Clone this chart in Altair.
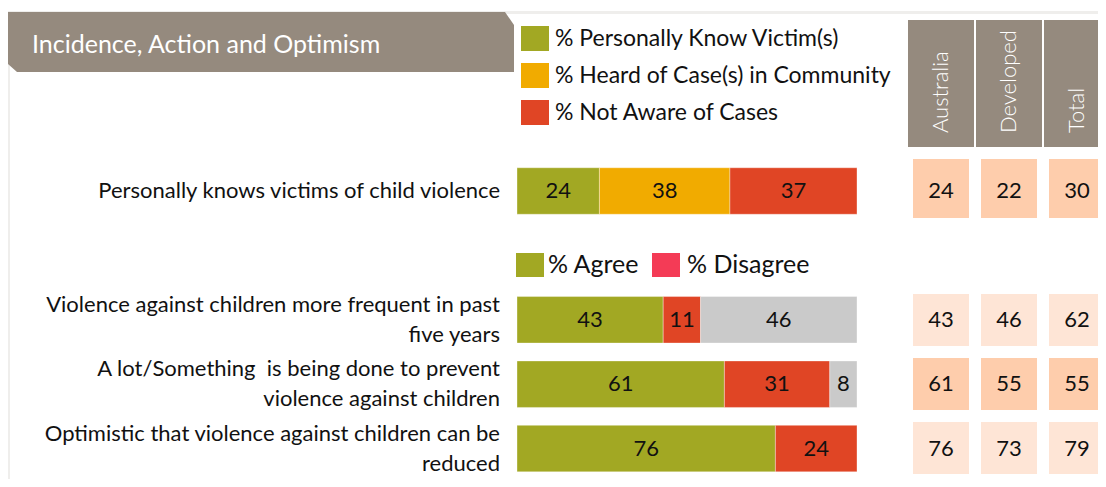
import altair as alt
import pandas as pd

# ---------------- data ----------------
title_text = "Incidence, Action and Optimism"
row_keys = ["r1", "r2", "r3", "r4"]
row_labels = [
    "Personally knows victims of child violence",
    "Violence against children more frequent in past\nfive years",
    "A lot/Something\u00a0 is being done to prevent\nviolence against children",
    "Optimistic that violence against children can be\nreduced",
]
awareness_keys = ["know", "heard", "notaware"]
awareness_labels = ["% Personally Know Victim(s)", "% Heard of Case(s) in Community", "% Not Aware of Cases"]
awareness_values = [24, 38, 37]
agree_values = [43, 61, 76]
disagree_values = [11, 31, 24]
neither_values = [46, 8, None]
agree_legend = ["% Agree", "% Disagree"]
table_columns = ["Australia", "Developed", "Total"]
australia_values = [24, 43, 61, 76]
developed_values = [22, 46, 55, 73]
total_values = [30, 62, 55, 79]

# ---------------- styles ----------------
FONT = "Lato"
TXT = "#111111"
GREEN = "#a2a823"
ORANGE = "#f1ab00"
RED = "#e04525"
GRAY = "#cacaca"
PINK = "#f43b56"
BANNER = "#958a7e"
FRAME = "#efeeec"
PEACH = "#fecdac"
PEACH_LIGHT = "#fee5d6"

# ---------------- tables ----------------
seg_rows = []
for i, (k, v) in enumerate(zip(awareness_keys, awareness_values)):
    seg_rows.append({"row": "r1", "seg": k, "value": v, "order": i})
for rk, a, d, n in zip(row_keys[1:], agree_values, disagree_values, neither_values):
    seg_rows.append({"row": rk, "seg": "agree", "value": a, "order": 0})
    seg_rows.append({"row": rk, "seg": "disagree", "value": d, "order": 1})
    if n is not None:
        seg_rows.append({"row": rk, "seg": "neither", "value": n, "order": 2})
seg_df = pd.DataFrame(seg_rows)

label_df = pd.DataFrame({"row": row_keys, "label": row_labels})

tab_rows = []
for col, vals in zip(table_columns, [australia_values, developed_values, total_values]):
    for rk, v in zip(row_keys, vals):
        tab_rows.append({"row": rk, "col": col, "value": v})
tab_df = pd.DataFrame(tab_rows)
col_df = pd.DataFrame({"col": table_columns})
leg1_df = pd.DataFrame({"seg": awareness_keys, "label": awareness_labels})
leg2_df = pd.DataFrame({"label": agree_legend})
one = pd.DataFrame({"_": [0]})

# ---------------- scales ----------------
seg_color = alt.Scale(domain=["know", "heard", "notaware", "agree", "disagree", "neither"],
                      range=[GREEN, ORANGE, RED, GREEN, RED, GRAY])
x_bar = alt.Scale(domain=[0, 1], range=[509, 849])
row_domain = ["r1", "gap", "r2", "r3", "r4"]
y_rows = alt.Scale(domain=row_domain, range=[150.8, 472.8], paddingInner=0.278, paddingOuter=0.139)
y_cells = alt.Scale(domain=row_domain, range=[152, 472], paddingInner=0.1875, paddingOuter=0.09375)
y_cell1 = alt.Scale(domain=["r1"], range=[151, 210], paddingInner=0, paddingOuter=0)
x_cells = alt.Scale(domain=table_columns, range=[899, 1103], paddingInner=0.1765, paddingOuter=0.0882)
x_heads = alt.Scale(domain=table_columns, range=[899, 1103], paddingInner=0.0294, paddingOuter=0.0147)
cell_color = alt.Scale(domain=row_keys, range=[PEACH, PEACH_LIGHT, PEACH, PEACH_LIGHT])
y_leg1 = alt.Scale(domain=awareness_labels, range=[12, 123], paddingInner=0.324, paddingOuter=0.162)
x_leg2 = alt.Scale(domain=agree_legend, range=[454, 726], paddingInner=0.794, paddingOuter=0.397)
x_leg2_txt = alt.Scale(domain=agree_legend, range=[540, 679], padding=0)
leg2_color = alt.Scale(domain=agree_legend, range=[GREEN, PINK])

# ---------------- decorations ----------------
frame_top = alt.Chart(one).mark_rect(color=FRAME).encode(
    x=alt.value(-1), x2=alt.value(1090), y=alt.value(3), y2=alt.value(6))
frame_left = alt.Chart(one).mark_rect(color=FRAME).encode(
    x=alt.value(-1), x2=alt.value(2), y=alt.value(3), y2=alt.value(480))
banner_path = ("M-1,-0.1183L0.9645,-0.1183L1,-0.0671L1,0.1183"
               "L-0.9606,0.1183L-1,0.0828Z")
banner = alt.Chart(one).mark_point(shape=banner_path, size=257049, filled=True,
                                   fill=BANNER, opacity=1, strokeWidth=0).encode(
    x=alt.value(252.5), y=alt.value(34))
title = alt.Chart(one).mark_text(text=title_text, font=FONT, fontSize=25,
                                 color="white", align="left", baseline="alphabetic").encode(
    x=alt.value(24), y=alt.value(45))

# ---------------- bars ----------------
stacked = alt.Chart(seg_df).transform_stack(
    stack="value", groupby=["row"], as_=["x0", "x1"], offset="normalize",
    sort=[alt.SortField("order", order="ascending")])
bars = stacked.mark_rect(stroke="white", strokeWidth=1, strokeOpacity=0.35).encode(
    x=alt.X("x0:Q", scale=x_bar, axis=None),
    x2="x1:Q",
    y=alt.Y("row:N", scale=y_rows, axis=None),
    color=alt.Color("seg:N", scale=seg_color, legend=None),
)
bar_text = stacked.transform_calculate(xm="(datum.x0 + datum.x1) / 2").mark_text(
    font=FONT, fontSize=22, color=TXT, baseline="middle", align="center").encode(
    x=alt.X("xm:Q", scale=x_bar, axis=None),
    y=alt.Y("row:N", scale=y_rows, axis=None),
    text="value:Q",
)
row_text_single = alt.Chart(label_df).transform_filter("datum.row == 'r1'").mark_text(
    font=FONT, fontSize=22, color=TXT, align="right", baseline="middle").encode(
    x=alt.value(492),
    y=alt.Y("row:N", scale=y_rows, axis=None),
    text="label:N",
)
row_text_multi = alt.Chart(label_df).transform_filter("datum.row != 'r1'").mark_text(
    font=FONT, fontSize=22, color=TXT, align="right", baseline="middle",
    lineBreak="\n", lineHeight=30, dy=-15).encode(
    x=alt.value(492),
    y=alt.Y("row:N", scale=y_rows, axis=None),
    text="label:N",
)

# ---------------- table ----------------
cells_rest = alt.Chart(tab_df).transform_filter("datum.row != 'r1'").mark_rect().encode(
    x=alt.X("col:N", scale=x_cells, axis=None),
    y=alt.Y("row:N", scale=y_cells, axis=None),
    color=alt.Color("row:N", scale=cell_color, legend=None),
)
cells_first = alt.Chart(tab_df).transform_filter("datum.row == 'r1'").mark_rect().encode(
    x=alt.X("col:N", scale=x_cells, axis=None),
    y=alt.Y("row:N", scale=y_cell1, axis=None),
    color=alt.Color("row:N", scale=cell_color, legend=None),
)
cell_text = alt.Chart(tab_df).mark_text(font=FONT, fontSize=22, color=TXT,
                                        align="center", baseline="middle").encode(
    x=alt.X("col:N", scale=x_cells, axis=None),
    y=alt.Y("row:N", scale=y_rows, axis=None),
    text="value:Q",
)
heads = alt.Chart(col_df).mark_rect(color=BANNER).encode(
    x=alt.X("col:N", scale=x_heads, axis=None),
    y=alt.value(12), y2=alt.value(139),
)
head_text = alt.Chart(col_df).mark_text(font=FONT, fontSize=22, fontWeight=300, color="white",
                                        angle=270, align="left", baseline="middle").encode(
    x=alt.X("col:N", scale=x_cells, axis=None),
    y=alt.value(125),
    text="col:N",
)

# ---------------- legends ----------------
leg1_box = alt.Chart(leg1_df).mark_rect().encode(
    x=alt.value(513), x2=alt.value(541),
    y=alt.Y("label:N", scale=y_leg1, axis=None),
    color=alt.Color("seg:N", scale=seg_color, legend=None),
)
leg1_text = alt.Chart(leg1_df).mark_text(font=FONT, fontSize=23, color=TXT,
                                         align="left", baseline="middle").encode(
    x=alt.value(547),
    y=alt.Y("label:N", scale=y_leg1, axis=None),
    text="label:N",
)
leg2_box = alt.Chart(leg2_df).mark_rect().encode(
    x=alt.X("label:N", scale=x_leg2, axis=None),
    y=alt.value(245), y2=alt.value(269),
    color=alt.Color("label:N", scale=leg2_color, legend=None),
)
leg2_text = alt.Chart(leg2_df).mark_text(font=FONT, fontSize=25, color=TXT,
                                         align="left", baseline="middle").encode(
    x=alt.X("label:N", scale=x_leg2_txt, axis=None),
    y=alt.value(257),
    text="label:N",
)

chart = alt.layer(
    frame_top, frame_left, banner, title,
    bars, bar_text, row_text_single, row_text_multi,
    heads, head_text, cells_rest, cells_first, cell_text,
    leg1_box, leg1_text, leg2_box, leg2_text,
).resolve_scale(
    x="independent", y="independent", color="independent"
).properties(
    width=1090, height=471, padding=0, autosize=alt.AutoSizeParams(type="none"),
    background="white",
).configure_view(stroke=None)

chart.save("out.html", embed_options={"renderer": "svg", "actions": False})
